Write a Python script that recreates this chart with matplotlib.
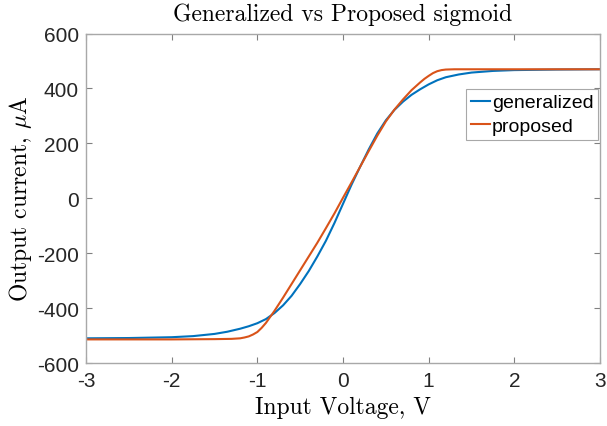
import matplotlib
matplotlib.use("Agg")
import matplotlib.pyplot as plt

# values
v_gen = [-3.0, -2.5, -2.0, -1.75, -1.5, -1.35, -1.2, -1.1, -1.0, -0.9, -0.8,
         -0.7, -0.6, -0.5, -0.4, -0.3, -0.2, -0.1, 0.0, 0.1, 0.2, 0.3, 0.4,
         0.5, 0.6, 0.7, 0.8, 0.9, 1.0, 1.1, 1.2, 1.35, 1.5, 1.75, 2.0, 2.5, 3.0]
i_gen = [-510, -509, -506, -502, -494, -486, -475, -466, -455, -440, -418,
         -390, -355, -312, -265, -212, -155, -90, -20, 50, 115, 178, 236,
         284, 322, 352, 377, 397, 415, 430, 441, 451, 458, 464, 467, 469, 470]

v_prop = [-3.0, -2.0, -1.5, -1.3, -1.2, -1.15, -1.1, -1.05, -1.0, -0.95, -0.9,
          -0.85, -0.8, -0.7, -0.6, -0.5, -0.4, -0.3, -0.2, -0.1, 0.0, 0.1,
          0.2, 0.3, 0.4, 0.5, 0.6, 0.7, 0.8, 0.9, 0.95, 1.0, 1.05, 1.1, 1.15,
          1.2, 1.3, 2.0, 3.0]
i_prop = [-514, -514, -513, -512, -510, -507, -503, -496, -487, -472, -454,
          -432, -410, -362, -312, -262, -212, -162, -109, -55, 2, 58,
          115, 172, 228, 280, 323, 360, 394, 422, 435, 446, 456, 463, 467,
          469, 470, 470, 470]

x_ticks = [-3, -2, -1, 0, 1, 2, 3]
y_ticks = [-600, -400, -200, 0, 200, 400, 600]

plt.rcParams['mathtext.fontset'] = 'cm'
tick_font = 'Liberation Sans'
serif_font = 'cmr10'

fig = plt.figure(figsize=(6.07, 4.27), dpi=100)
ax = fig.add_axes([0.1417, 0.1475, 0.8468, 0.7715])

ax.plot(v_gen, i_gen, color='#0072BD', lw=1.5, label='generalized')
ax.plot(v_prop, i_prop, color='#D95319', lw=1.5, label='proposed')

ax.set_xlim(-3, 3)
ax.set_ylim(-600, 600)
ax.set_xticks(x_ticks)
ax.set_yticks(y_ticks)
ax.set_xticklabels([str(t) for t in x_ticks], fontfamily=tick_font, fontsize=15)
ax.set_yticklabels([str(t) for t in y_ticks], fontfamily=tick_font, fontsize=15)
ax.tick_params(direction='in', top=True, right=True, length=4, width=0.8,
               color='#808080', labelcolor='#262626')
ax.tick_params(axis='x', pad=6)
ax.tick_params(axis='y', pad=5)
for s in ax.spines.values():
    s.set_color('#a8a8a8')
    s.set_linewidth(1.0)

ax.set_title('Generalized vs Proposed sigmoid', fontfamily=serif_font,
             fontsize=17, pad=10)
ax.set_xlabel('Input Voltage, V', fontfamily=serif_font, fontsize=17, labelpad=4)
ax.set_ylabel(r'Output current, $\mu$A', fontfamily=serif_font, fontsize=17,
              labelpad=2)

leg = ax.legend(loc='upper right', bbox_to_anchor=(0.997, 0.832),
                prop={'family': tick_font, 'size': 14}, fancybox=False,
                framealpha=1, edgecolor='#a8a8a8', handlelength=1.0,
                handletextpad=0.1, borderpad=0.25, labelspacing=0.3,
                borderaxespad=0)
leg.get_frame().set_linewidth(0.8)

fig.savefig('out.png', dpi=100)
